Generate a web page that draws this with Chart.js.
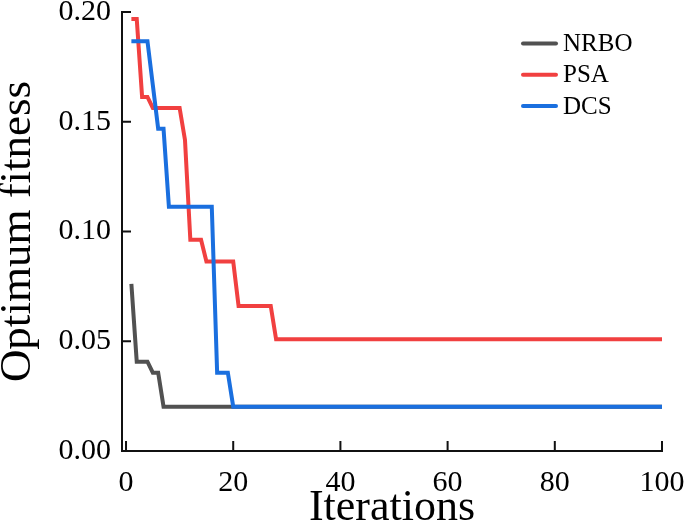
<!DOCTYPE html>
<html>
<head>
<meta charset="utf-8">
<script src="https://cdn.jsdelivr.net/npm/chart.js@4"></script>
<style>
    html, body { margin: 0; padding: 0; background: #fff; overflow: hidden; }
    canvas { display: block; }
</style>
</head>
<body>
<canvas id="fitnessChart" width="685" height="525"></canvas>
<script>
// ===============================
// DATA
// ===============================
const seriesNames = ["NRBO", "PSA", "DCS"];
const seriesColors = ["#515151", "#F14040", "#1A6FDF"];

const iterations = Array.from({ length: 100 }, (_, i) => i + 1);

const nrbo = [
    0.0761, 0.0407, 0.0407, 0.0407, 0.0357, 0.0357, 0.0202, 0.0202, 0.0202, 0.0202,
    0.0202, 0.0202, 0.0202, 0.0202, 0.0202, 0.0202, 0.0202, 0.0202, 0.0202, 0.0202,
    0.0202, 0.0202, 0.0202, 0.0202, 0.0202, 0.0202, 0.0202, 0.0202, 0.0202, 0.0202,
    0.0202, 0.0202, 0.0202, 0.0202, 0.0202, 0.0202, 0.0202, 0.0202, 0.0202, 0.0202,
    0.0202, 0.0202, 0.0202, 0.0202, 0.0202, 0.0202, 0.0202, 0.0202, 0.0202, 0.0202,
    0.0202, 0.0202, 0.0202, 0.0202, 0.0202, 0.0202, 0.0202, 0.0202, 0.0202, 0.0202,
    0.0202, 0.0202, 0.0202, 0.0202, 0.0202, 0.0202, 0.0202, 0.0202, 0.0202, 0.0202,
    0.0202, 0.0202, 0.0202, 0.0202, 0.0202, 0.0202, 0.0202, 0.0202, 0.0202, 0.0202,
    0.0202, 0.0202, 0.0202, 0.0202, 0.0202, 0.0202, 0.0202, 0.0202, 0.0202, 0.0202,
    0.0202, 0.0202, 0.0202, 0.0202, 0.0202, 0.0202, 0.0202, 0.0202, 0.0202, 0.0202
];

const psa = [
    0.1968, 0.1968, 0.1613, 0.1613, 0.1563, 0.1563, 0.1563, 0.1563, 0.1563, 0.1563,
    0.1417, 0.0962, 0.0962, 0.0962, 0.0863, 0.0863, 0.0863, 0.0863, 0.0863, 0.0863,
    0.0661, 0.0661, 0.0661, 0.0661, 0.0661, 0.0661, 0.0661, 0.0509, 0.0509, 0.0509,
    0.0509, 0.0509, 0.0509, 0.0509, 0.0509, 0.0509, 0.0509, 0.0509, 0.0509, 0.0509,
    0.0509, 0.0509, 0.0509, 0.0509, 0.0509, 0.0509, 0.0509, 0.0509, 0.0509, 0.0509,
    0.0509, 0.0509, 0.0509, 0.0509, 0.0509, 0.0509, 0.0509, 0.0509, 0.0509, 0.0509,
    0.0509, 0.0509, 0.0509, 0.0509, 0.0509, 0.0509, 0.0509, 0.0509, 0.0509, 0.0509,
    0.0509, 0.0509, 0.0509, 0.0509, 0.0509, 0.0509, 0.0509, 0.0509, 0.0509, 0.0509,
    0.0509, 0.0509, 0.0509, 0.0509, 0.0509, 0.0509, 0.0509, 0.0509, 0.0509, 0.0509,
    0.0509, 0.0509, 0.0509, 0.0509, 0.0509, 0.0509, 0.0509, 0.0509, 0.0509, 0.0509
];

const dcs = [
    0.1867, 0.1867, 0.1867, 0.1867, 0.1667, 0.1468, 0.1468, 0.1113, 0.1113, 0.1113,
    0.1113, 0.1113, 0.1113, 0.1113, 0.1113, 0.1113, 0.0357, 0.0357, 0.0357, 0.0202,
    0.0202, 0.0202, 0.0202, 0.0202, 0.0202, 0.0202, 0.0202, 0.0202, 0.0202, 0.0202,
    0.0202, 0.0202, 0.0202, 0.0202, 0.0202, 0.0202, 0.0202, 0.0202, 0.0202, 0.0202,
    0.0202, 0.0202, 0.0202, 0.0202, 0.0202, 0.0202, 0.0202, 0.0202, 0.0202, 0.0202,
    0.0202, 0.0202, 0.0202, 0.0202, 0.0202, 0.0202, 0.0202, 0.0202, 0.0202, 0.0202,
    0.0202, 0.0202, 0.0202, 0.0202, 0.0202, 0.0202, 0.0202, 0.0202, 0.0202, 0.0202,
    0.0202, 0.0202, 0.0202, 0.0202, 0.0202, 0.0202, 0.0202, 0.0202, 0.0202, 0.0202,
    0.0202, 0.0202, 0.0202, 0.0202, 0.0202, 0.0202, 0.0202, 0.0202, 0.0202, 0.0202,
    0.0202, 0.0202, 0.0202, 0.0202, 0.0202, 0.0202, 0.0202, 0.0202, 0.0202, 0.0202
];

const xTicks = [0, 20, 40, 60, 80, 100];
const yTicks = [0, 0.05, 0.10, 0.15, 0.20];

const xTitle = "Iterations";
const yTitle = "Optimum fitness";

// ===============================
// HELPERS
// ===============================
const FONT = "'Liberation Serif', 'Times New Roman', serif";
const AXIS_COLOR = "#111";

const toPoints = values => values.map((v, i) => ({ x: iterations[i], y: v }));

// inward tick marks, like the original plot
const insideTicks = {
    id: "insideTicks",
    afterDraw(chart) {
        const { ctx, chartArea, scales } = chart;
        ctx.save();
        ctx.strokeStyle = AXIS_COLOR;
        ctx.lineWidth = 2;
        ctx.beginPath();
        xTicks.forEach(v => {
            const px = scales.x.getPixelForValue(v);
            ctx.moveTo(px, chartArea.bottom);
            ctx.lineTo(px, chartArea.bottom - 10);
        });
        yTicks.forEach(v => {
            const py = scales.y.getPixelForValue(v);
            ctx.moveTo(chartArea.left, py);
            ctx.lineTo(chartArea.left + 9, py);
        });
        ctx.stroke();
        ctx.restore();
    }
};

// legend in top-right corner, built from the datasets
const cornerLegend = {
    id: "cornerLegend",
    afterDraw(chart) {
        const { ctx } = chart;
        ctx.save();
        ctx.font = "25px " + FONT;
        ctx.textBaseline = "middle";
        ctx.lineCap = "round";
        chart.data.datasets.forEach((ds, i) => {
            const y = 43.5 + i * 31.3;
            ctx.strokeStyle = ds.borderColor;
            ctx.lineWidth = 4;
            ctx.beginPath();
            ctx.moveTo(523, y);
            ctx.lineTo(556, y);
            ctx.stroke();
            ctx.fillStyle = "#000";
            ctx.fillText(ds.label, 563, y + 1);
        });
        ctx.restore();
    }
};

// ===============================
// CHART
// ===============================
const allSeries = [nrbo, psa, dcs];
const drawOrder = [2, 1, 0];

new Chart(document.getElementById("fitnessChart"), {
    type: "line",
    data: {
        datasets: allSeries.map((values, i) => ({
            label: seriesNames[i],
            data: toPoints(values),
            borderColor: seriesColors[i],
            backgroundColor: seriesColors[i],
            borderWidth: 4,
            pointRadius: 0,
            tension: 0,
            fill: false,
            order: drawOrder[i]
        }))
    },
    options: {
        responsive: false,
        animation: false,
        events: [],
        layout: { padding: { top: 12, right: 23, bottom: 0, left: 0 } },
        plugins: {
            legend: { display: false },
            tooltip: { enabled: false }
        },
        scales: {
            x: {
                type: "linear",
                min: -0.75,
                max: 100,
                afterBuildTicks: scale => { scale.ticks = xTicks.map(v => ({ value: v })); },
                afterFit: scale => { scale.height = 74; scale.paddingLeft = 0; scale.paddingRight = 0; },
                grid: { display: false, drawTicks: false },
                border: { display: true, color: AXIS_COLOR, width: 2 },
                ticks: {
                    color: "#000",
                    padding: 14,
                    maxRotation: 0,
                    autoSkip: false,
                    font: { family: FONT, size: 30 }
                },
                title: {
                    display: true,
                    text: xTitle,
                    color: "#000",
                    padding: 0,
                    font: { family: FONT, size: 44, lineHeight: 0.76 }
                }
            },
            y: {
                min: 0,
                max: 0.2,
                afterBuildTicks: scale => { scale.ticks = yTicks.map(v => ({ value: v })); },
                afterFit: scale => { scale.width = 122; scale.paddingTop = 0; scale.paddingBottom = 0; },
                grid: { display: false, drawTicks: false },
                border: { display: true, color: AXIS_COLOR, width: 2 },
                ticks: {
                    color: "#000",
                    padding: 11,
                    autoSkip: false,
                    callback: v => Number(v).toFixed(2),
                    font: { family: FONT, size: 30 }
                },
                title: {
                    display: true,
                    text: yTitle,
                    color: "#000",
                    padding: 0,
                    font: { family: FONT, size: 45, lineHeight: 0.8 }
                }
            }
        }
    },
    plugins: [insideTicks, cornerLegend]
});
</script>
</body>
</html>
